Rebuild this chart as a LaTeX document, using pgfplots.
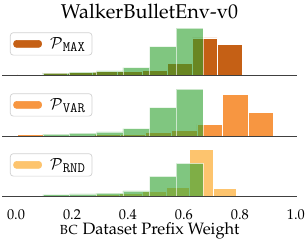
\documentclass[border=0pt]{standalone}
\usepackage[T1]{fontenc}
\usepackage{mathpazo}
\usepackage{pgfplots}
\usepackage{pgfplotstable}
\pgfplotsset{compat=1.18}
\definecolor{gr}{RGB}{44,160,44}
\definecolor{omax}{RGB}{197,96,21}
\definecolor{ovar}{RGB}{247,150,65}
\definecolor{ornd}{RGB}{253,196,110}
\definecolor{spine}{RGB}{64,64,64}

% green reference histogram (density), bin left edges, last row = right edge
\pgfplotstableread{
x y
0.096 0.22
0.191 0.33
0.287 0.48
0.382 0.85
0.477 3.25
0.572 5.38
0.668 0
}\green

\pgfplotstableread{
x y
0.007 0.06
0.096 0.26
0.185 0.34
0.274 0.38
0.363 0.38
0.452 0.49
0.541 1.34
0.630 4.24
0.719 3.47
0.808 0
}\pmax

\pgfplotstableread{
x y
0.004 0.17
0.096 0.11
0.187 0.11
0.279 0.17
0.371 0.19
0.462 0.38
0.554 0.61
0.646 1.34
0.737 4.77
0.829 2.71
0.921 0
}\pvar

\pgfplotstableread{
x y
0.116 0.08
0.200 0.16
0.284 0.33
0.368 0.49
0.452 0.71
0.536 1.48
0.620 7.73
0.704 1.27
0.788 0
}\prnd

\pgfplotsset{
  every axis title shift=0pt,
  panel/.style={
    scale only axis, width=295bp, height=49.4bp,
    xmin=-0.05, xmax=1.004, ymin=0,
    anchor=south west, axis on top,
    axis x line*=bottom, hide y axis,
    axis line style={spine, line width=0.9pt},
    xtick={0,0.2,0.4,0.6,0.8,1.0},
    xticklabels={},
    xtick style={draw=none},
    legend cell align=left,
    legend style={at={(0.027,0.864)}, anchor=north west,
      draw=black!18, line width=0.7pt, rounded corners=3bp, fill=white,
      inner xsep=3bp, inner ysep=2bp,
      nodes={inner xsep=4bp, inner ysep=3bp}, column sep=4bp},
  },
  obar/.style={ybar interval, fill=#1, draw=white, line width=0.6bp},
  gbar/.style={ybar interval, fill=gr, fill opacity=0.6, draw=white, draw opacity=0.6, line width=0.6bp, forget plot},
}
\newcommand{\leg}[1]{{\fontsize{15.5}{15.5}\selectfont$\mathcal{P}$}\raisebox{-2.5bp}{\fontsize{13.5}{13.5}\selectfont$\mathtt{#1}$}}

\begin{document}
\begin{tikzpicture}
\path[use as bounding box] (0,0) rectangle (306bp,-242bp);

\begin{axis}[panel, at={(2bp,-75bp)}, ymax=5.66,
  title={WalkerBulletEnv-v0},
  title style={font=\fontsize{20}{22}\selectfont, at={(0.5,1)}, anchor=base, yshift=7.3bp},
  legend image code/.code={\fill[omax] (0bp,-3.5bp) rectangle (28bp,3.5bp);}]
\addplot[obar=omax] table {\pmax};
\addlegendentry{\leg{MAX}}
\addplot[gbar] table {\green};
\end{axis}

\begin{axis}[panel, at={(2bp,-136bp)}, ymax=5.66,
  legend image code/.code={\fill[ovar] (0bp,-3.5bp) rectangle (28bp,3.5bp);}]
\addplot[obar=ovar] table {\pvar};
\addlegendentry{\leg{VAR}}
\addplot[gbar] table {\green};
\end{axis}

\begin{axis}[panel, at={(2bp,-196bp)}, ymax=8.13,
  xticklabels={0.0,0.2,0.4,0.6,0.8,1.0},
  xticklabel style={font=\fontsize{14.4}{16}\selectfont, anchor=base, yshift=-23.7bp},
  xlabel={\textsc{bc} Dataset Prefix Weight},
  xlabel style={font=\fontsize{16.5}{18}\selectfont, at={(axis description cs:0.5,0)}, anchor=base, yshift=-38.7bp},
  legend image code/.code={\fill[ornd] (0bp,-3.5bp) rectangle (28bp,3.5bp);}]
\addplot[obar=ornd] table {\prnd};
\addlegendentry{\leg{RND}}
\addplot[gbar] table {\green};
\end{axis}
\end{tikzpicture}
\end{document}
